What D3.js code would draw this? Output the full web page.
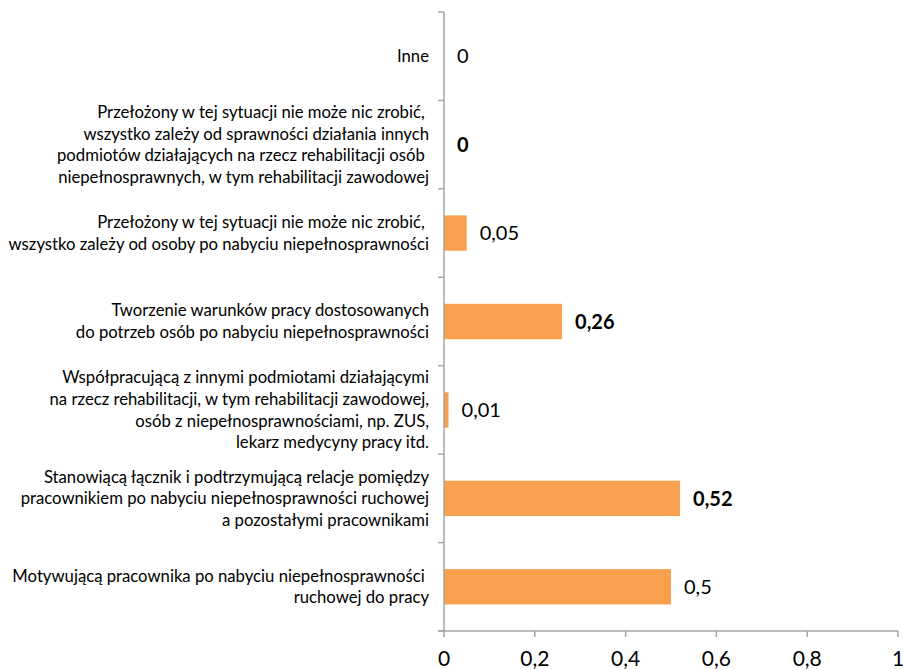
<!DOCTYPE html>
<html><head><meta charset="utf-8">
<script src="https://cdn.jsdelivr.net/npm/d3@7"></script>
<style>body{margin:0;background:#fff;}svg{display:block;}</style>
</head><body>
<svg id="c" width="903" height="669"></svg>
<script>
const categories = [
  ["Inne"],
  ["Przełożony w tej sytuacji nie może nic zrobić, ", "wszystko zależy od sprawności działania innych", "podmiotów działających na rzecz rehabilitacji osób ", "niepełnosprawnych, w tym rehabilitacji zawodowej"],
  ["Przełożony w tej sytuacji nie może nic zrobić, ", "wszystko zależy od osoby po nabyciu niepełnosprawności"],
  ["Tworzenie warunków pracy dostosowanych", "do potrzeb osób po nabyciu niepełnosprawności"],
  ["Współpracującą z innymi podmiotami działającymi", "na rzecz rehabilitacji, w tym rehabilitacji zawodowej,", "osób z niepełnosprawnościami, np. ZUS,", "lekarz medycyny pracy itd."],
  ["Stanowiącą łącznik i podtrzymującą relacje pomiędzy", "pracownikiem po nabyciu niepełnosprawności ruchowej", "a pozostałymi pracownikami"],
  ["Motywującą pracownika po nabyciu niepełnosprawności ", "ruchowej do pracy"]
];
const values = [0, 0, 0.05, 0.26, 0.01, 0.52, 0.5];
const valueLabels = ["0", "0", "0,05", "0,26", "0,01", "0,52", "0,5"];
const boldLabels = [false, true, false, true, false, true, false];
const xTicks = [0, 0.2, 0.4, 0.6, 0.8, 1];
const xTickLabels = ["0", "0,2", "0,4", "0,6", "0,8", "1"];

(function () {
const svg = d3.select("#c");
const mLeft = 444, mRight = 898, mTop = 12, mBottom = 631;
const font = "Lato, 'Open Sans', sans-serif";
const axisColor = "#a6a6a6";

const x = d3.scaleLinear().domain([0, 1]).range([mLeft, mRight]);
const ids = categories.map((d, i) => i);
const y = d3.scaleBand().domain(ids).range([mTop, mBottom]).paddingInner(0.6).paddingOuter(0.3);
const step = y.step();

// bars
svg.append("g").selectAll("rect").data(ids).join("rect")
  .attr("x", x(0))
  .attr("y", i => y(i))
  .attr("width", i => x(values[i]) - x(0))
  .attr("height", y.bandwidth())
  .attr("fill", "#f9a04e");

// y axis line + ticks at band boundaries
const yg = svg.append("g");
yg.append("line").attr("x1", x(0)).attr("x2", x(0)).attr("y1", mTop).attr("y2", mBottom)
  .attr("stroke", axisColor).attr("stroke-width", 1.5);
yg.selectAll("line.t").data(d3.range(categories.length + 1)).join("line").attr("class", "t")
  .attr("x1", x(0) - 6).attr("x2", x(0))
  .attr("y1", i => mTop + i * step).attr("y2", i => mTop + i * step)
  .attr("stroke", axisColor).attr("stroke-width", 1.5);

// x axis
const xg = svg.append("g");
xg.append("line").attr("x1", x(0) - 6).attr("x2", x(1)).attr("y1", mBottom).attr("y2", mBottom)
  .attr("stroke", axisColor).attr("stroke-width", 1.5);
xg.selectAll("line.t").data(xTicks).join("line").attr("class", "t")
  .attr("x1", d => x(d)).attr("x2", d => x(d)).attr("y1", mBottom).attr("y2", mBottom + 6)
  .attr("stroke", axisColor).attr("stroke-width", 1.5);
xg.selectAll("text").data(xTicks).join("text")
  .attr("x", d => x(d)).attr("y", 666)
  .attr("text-anchor", "middle")
  .attr("font-family", font).attr("font-size", 21).attr("fill", "#000")
  .text((d, i) => xTickLabels[i]);

// category labels
const lh = 21.7;
const lg = svg.append("g");
ids.forEach(i => {
  const lines = categories[i];
  const cy = y(i) + y.bandwidth() / 2;
  const t = lg.append("text")
    .attr("text-anchor", "end")
    .attr("font-family", font).attr("font-size", 16.7).attr("fill", "#000")
    .style("white-space", "pre");
  lines.forEach((ln, k) => {
    t.append("tspan").attr("x", 429)
      .attr("y", cy + (k - (lines.length - 1) / 2) * lh)
      .attr("dy", "0.35em")
      .text(ln);
  });
});

// value labels
svg.append("g").selectAll("text").data(ids).join("text")
  .attr("x", i => x(values[i]) + 13)
  .attr("y", i => y(i) + y.bandwidth() / 2)
  .attr("dy", "0.36em")
  .attr("font-family", font).attr("font-size", 20)
  .attr("font-weight", i => boldLabels[i] ? 700 : 400)
  .attr("fill", "#000")
  .text(i => valueLabels[i]);
})();
</script>
</body></html>
